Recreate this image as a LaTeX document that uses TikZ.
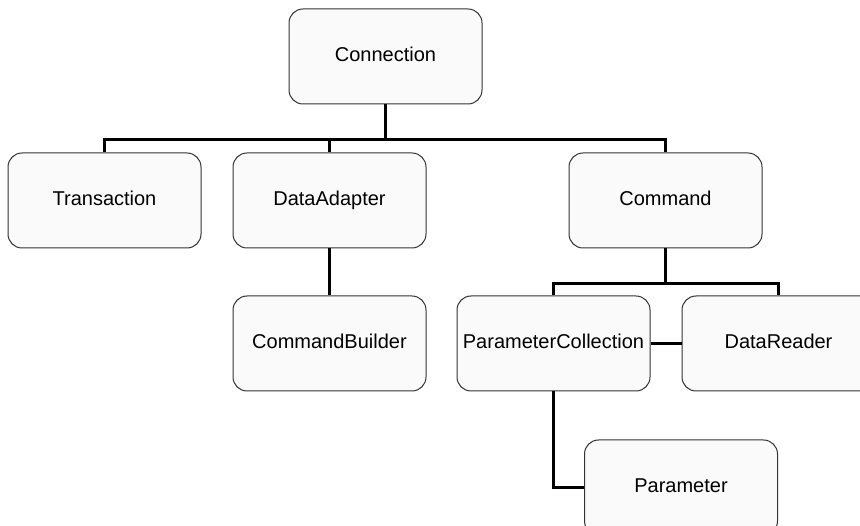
\documentclass[tikz,border=0pt]{standalone}
\usepackage{fontspec}
\setmainfont{Liberation Sans}
\usepackage{tikz}
\usetikzlibrary{positioning}
\usepackage{xcolor}

\begin{document}
\begin{tikzpicture}[
  node distance=47pt and 31pt,
  classbox/.style={
    draw=black!80,
    fill=black!2,
    line width=1pt,
    rounded corners=14pt,
    align=center,
    minimum width=193pt,
    minimum height=95pt,
    inner sep=0pt,
    text height=14pt,
    text depth=4pt,
    font=\fontsize{20}{24}\selectfont
  },
  link/.style={
    line width=3pt
  }
]

\useasboundingbox (0pt,0pt) rectangle (860pt,-526pt);

% Top level
\node[classbox] (conn) at (385.5pt,-56.5pt) {Connection};

% Second row
\node[classbox, below=48pt of conn, xshift=-56pt] (adapter) {DataAdapter};
\node[classbox, left=of adapter] (trans) {Transaction};
\node[classbox, right=142pt of adapter] (command) {Command};

% Third row
\node[classbox, below=of adapter] (builder) {CommandBuilder};
\node[classbox, below=of command, xshift=-112pt] (paramcoll) {ParameterCollection};
\node[classbox, right=of paramcoll] (reader) {DataReader};

% Bottom row
\node[classbox, below=48pt of paramcoll, xshift=127.5pt] (param) {Parameter};

% Connection children
\draw[link] (conn.south) -- ++(0,-35pt) -| (trans.north);
\draw[link] (conn.south) -- ++(0,-35pt) -| (adapter.north);
\draw[link] (conn.south) -- ++(0,-35pt) -| (command.north);

% DataAdapter child
\draw[link] (adapter) -- (builder);

% Command children
\draw[link] (command.south) -- ++(0,-35pt) -| (paramcoll.north);
\draw[link] (command.south) -- ++(0,-35pt) -| (reader.north);
\draw[link] (paramcoll) -- (reader);

% ParameterCollection child
\draw[link] (paramcoll.south) |- (param.west);

\end{tikzpicture}
\end{document}
